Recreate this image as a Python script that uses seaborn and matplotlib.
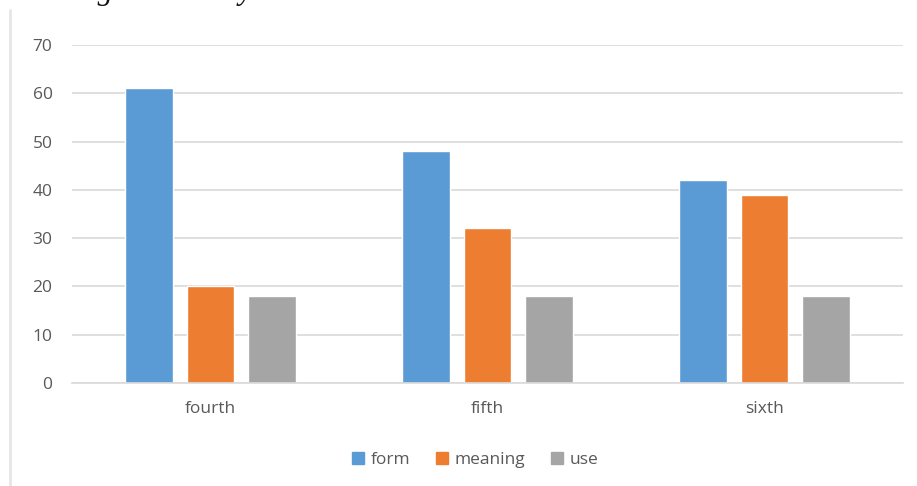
import matplotlib
matplotlib.use("Agg")
import matplotlib.pyplot as plt
from matplotlib.lines import Line2D
import seaborn as sns
import pandas as pd

grades = ["fourth", "fifth", "sixth"]
aspects = ["form", "meaning", "use"]
form_vals = [61, 48, 42]
meaning_vals = [20, 32, 39]
use_vals = [18, 18, 18]
yticks = [0, 10, 20, 30, 40, 50, 60, 70]
colors = ["#5B9BD5", "#ED7D31", "#A5A5A5"]

rows = []
for g, f, m, u in zip(grades, form_vals, meaning_vals, use_vals):
    rows += [(g, "form", f), (g, "meaning", m), (g, "use", u)]
df = pd.DataFrame(rows, columns=["grade", "aspect", "value"])

sns.set_theme(style="white")
plt.rcParams["font.family"] = ["Open Sans", "DejaVu Sans"]

fig = plt.figure(figsize=(9.17, 4.86), dpi=100)
ax = fig.add_axes([72 / 917, 1 - 383 / 486, 831 / 917, 338 / 486])

sns.barplot(data=df, x="grade", y="value", hue="aspect", order=grades,
            hue_order=aspects, palette=colors, width=0.666, gap=0.22,
            saturation=1, ax=ax, legend=False, errorbar=None)

ax.set_ylim(0, 70)
ax.set_xlim(-0.5, 2.5)
ax.set_yticks(yticks)
ax.yaxis.grid(True, color="#D9D9D9", linewidth=1.2)
ax.set_axisbelow(True)
for s in ["top", "right", "left"]:
    ax.spines[s].set_visible(False)
ax.spines["bottom"].set_color("#D9D9D9")
ax.spines["bottom"].set_linewidth(1.2)
ax.set_xlabel("")
ax.set_ylabel("")
ax.tick_params(axis="y", length=0, pad=14, labelsize=12.5, labelcolor="#595959")
ax.tick_params(axis="x", length=0, pad=13, labelsize=12.5, labelcolor="#595959")

handles = [plt.Rectangle((0, 0), 1, 1, color=c) for c in colors]
fig.legend(handles, aspects, loc="center", bbox_to_anchor=(475 / 917, 1 - 460 / 486),
           ncol=3, frameon=False, fontsize=12.5, handlelength=0.7, handleheight=0.7,
           handletextpad=0.35, columnspacing=1.5, labelcolor="#595959")

# page frame line and the document line running above the chart
fig.add_artist(Line2D([10 / 917, 10 / 917], [0, 1 - 10 / 486], color="#E6E6E6", linewidth=2))
fig.text(-4 / 917, 1 + 1 / 486, "knowledge taxonomy", fontsize=22, family="Liberation Serif",
         style="italic", va="baseline", ha="left", color="#111111")

fig.savefig("out.png", dpi=100)
